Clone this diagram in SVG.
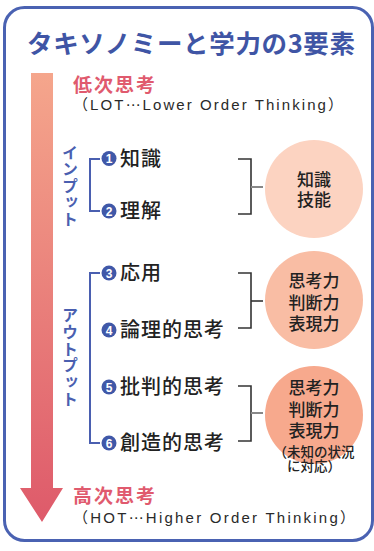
<svg xmlns="http://www.w3.org/2000/svg" width="374" height="551" viewBox="0 0 374 551">
<defs>
<linearGradient id="arrowGrad" x1="0" y1="73" x2="0" y2="522" gradientUnits="userSpaceOnUse">
<stop offset="0" stop-color="#f5a68c"/>
<stop offset="1" stop-color="#de5a6a"/>
</linearGradient>
<style>
.jp{font-family:"Noto Sans CJK JP","Noto Sans",sans-serif}
.title{font-size:25.5px;font-weight:bold;fill:#3f55a5}
.red{font-size:19px;font-weight:bold;fill:#e05a6e}
.sub{font-size:15px;fill:#2a2a2a;font-family:"Liberation Sans","Noto Sans CJK JP",sans-serif}
.ell{font-family:"DejaVu Sans","Noto Sans CJK JP",sans-serif}
.vert{font-size:16px;font-weight:bold;fill:#4a5fb0;writing-mode:vertical-rl}
.item{font-size:20px;fill:#222;letter-spacing:1px;font-weight:500}
.num{font-size:12px;font-weight:bold;fill:#fff;font-family:"Liberation Sans",sans-serif;text-anchor:middle}
.ctext{font-size:17px;fill:#222;text-anchor:middle;font-weight:500}
.small{font-size:13.5px;fill:#222;text-anchor:middle;font-weight:500}
.blueline{stroke:#4a5fb0;stroke-width:2;fill:none}
.darkline{stroke:#333;stroke-width:1.6;fill:none}
.grayline{stroke:#888;stroke-width:2;fill:none}
.badge{fill:#4058a8}
</style>
</defs>
<rect x="4.5" y="7.5" width="368" height="533" rx="20" fill="#fff" stroke="#4a62b2" stroke-width="3"/>
<text class="jp title" x="27" y="53" textLength="328" lengthAdjust="spacing">タキソノミーと学力の3要素</text>
<g id="arrow">
<path d="M31 73 H53 V488 H63 L42 522 L20 488 H31 Z" fill="url(#arrowGrad)"/>
</g>
<g id="low">
<text class="jp red" x="73" y="92" textLength="82" lengthAdjust="spacing">低次思考</text>
<text class="sub" x="73" y="110" textLength="270" lengthAdjust="spacing">（LOT<tspan class="ell">⋯</tspan>Lower Order Thinking）</text>
</g>
<g id="high">
<text class="jp red" x="73" y="503" textLength="82" lengthAdjust="spacing">高次思考</text>
<text class="sub" x="73" y="523" textLength="282" lengthAdjust="spacing">（HOT<tspan class="ell">⋯</tspan>Higher Order Thinking）</text>
</g>
<g id="input-label">
<text class="jp vert" x="70" y="145" letter-spacing="0.4">インプット</text>
</g>
<g id="output-label">
<text class="jp vert" x="70" y="307" letter-spacing="0.8">アウトプット</text>
</g>
<g id="connectors">
<path class="blueline" d="M100 159 H90 V211 H100"/>
<path class="blueline" d="M100 273 H90 V443 H100"/>
<path class="darkline" d="M238 159 H251 V214 H238"/>
<path class="grayline" d="M251 187 H263"/>
<path class="darkline" d="M238 273 H251 V328 H238"/>
<path class="darkline" d="M251 301 H263"/>
<path class="darkline" d="M238 386 H251 V441 H238"/>
<path class="grayline" d="M251 413 H263"/>
</g>
<g id="item1">
<circle class="badge" cx="109" cy="158.5" r="7.5"/>
<text class="num" x="109" y="163">1</text>
<text class="jp item" x="120" y="166">知識</text>
</g>
<g id="item2">
<circle class="badge" cx="109" cy="211" r="7.5"/>
<text class="num" x="109" y="215.5">2</text>
<text class="jp item" x="120" y="218">理解</text>
</g>
<g id="item3">
<circle class="badge" cx="109" cy="273" r="7.5"/>
<text class="num" x="109" y="277.5">3</text>
<text class="jp item" x="120" y="280">応用</text>
</g>
<g id="item4">
<circle class="badge" cx="109" cy="330" r="7.5"/>
<text class="num" x="109" y="334.5">4</text>
<text class="jp item" x="120" y="337">論理的思考</text>
</g>
<g id="item5">
<circle class="badge" cx="109" cy="387" r="7.5"/>
<text class="num" x="109" y="391.5">5</text>
<text class="jp item" x="120" y="394">批判的思考</text>
</g>
<g id="item6">
<circle class="badge" cx="109" cy="443" r="7.5"/>
<text class="num" x="109" y="447.5">6</text>
<text class="jp item" x="120" y="450">創造的思考</text>
</g>
<g id="circle1">
<circle cx="314" cy="189" r="49" fill="#fcd3c1"/>
<text class="jp ctext" x="314" y="186">知識</text>
<text class="jp ctext" x="314" y="206">技能</text>
</g>
<g id="circle2">
<circle cx="314" cy="300" r="49" fill="#f9bda4"/>
<text class="jp ctext" x="314" y="287">思考力</text>
<text class="jp ctext" x="314" y="309">判断力</text>
<text class="jp ctext" x="314" y="330">表現力</text>
</g>
<g id="circle3">
<circle cx="314" cy="415" r="49" fill="#f7a98d"/>
<text class="jp ctext" x="314" y="394">思考力</text>
<text class="jp ctext" x="314" y="416">判断力</text>
<text class="jp ctext" x="314" y="437">表現力</text>
<text class="jp small" x="314" y="457">（未知の状況</text>
<text class="jp small" x="314" y="471">に対応）</text>
</g>
</svg>
